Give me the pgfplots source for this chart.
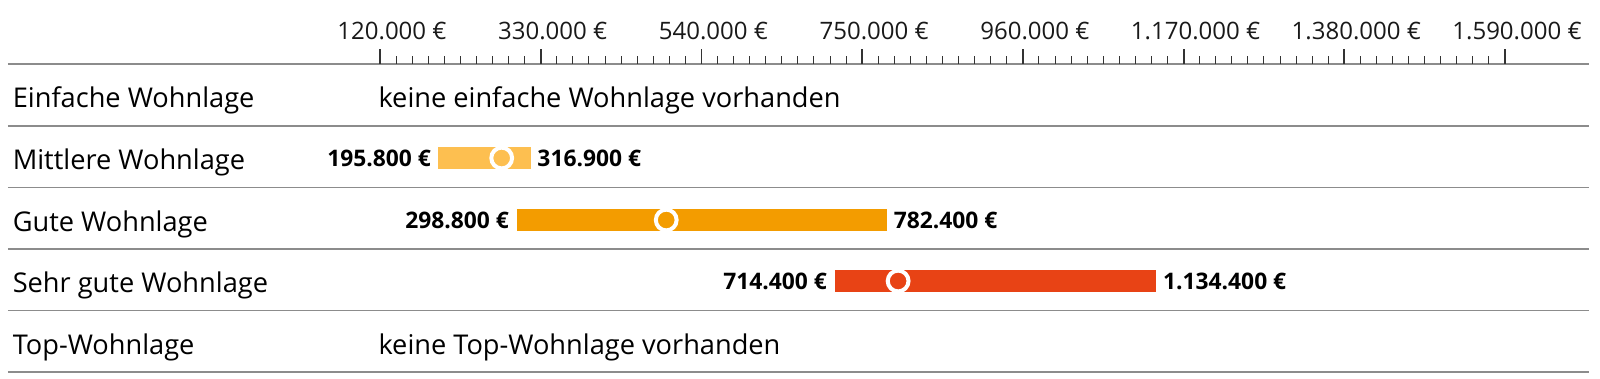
\documentclass[border=0pt]{standalone}
\usepackage{pgfplots}
\pgfplotsset{compat=1.18}
\usepackage{fontspec}
\setmainfont{Open Sans}
\definecolor{gridgray}{HTML}{8C8C8C}
\definecolor{tickdark}{HTML}{333333}
\definecolor{cMid}{HTML}{FDBF50}
\definecolor{cGood}{HTML}{F39C00}
\definecolor{cTop}{HTML}{E84315}
\newcommand{\catfont}{\fontsize{6.8}{8}\selectfont}
\newcommand{\valfont}{\fontsize{5.7}{7}\selectfont\bfseries}
\begin{document}
\begin{tikzpicture}
\begin{axis}[
  scale only axis, width=395.25pt, height=78.5pt,
  xmin=-366077, xmax=1699752, ymin=-378, ymax=-64,
  clip=false,
  axis line style={draw=none},
  scaled x ticks=false,
  xtick={120000,330000,540000,750000,960000,1170000,1380000,1590000},
  xticklabels={120.000 €,330.000 €,540.000 €,750.000 €,960.000 €,1.170.000 €,1.380.000 €,1.590.000 €},
  xtick pos=right, xticklabel pos=right,
  tick align=outside,
  minor x tick num=9,
  major tick length=3.75pt, minor tick length=2pt,
  xtick style={tickdark},
  major tick style={line width=0.45pt},
  minor tick style={line width=0.25pt},
  xticklabel style={font=\fontsize{6}{7}\selectfont, text=black!90, xshift=3pt, yshift=-1.2pt},
  ytick={-64,-126,-187.5,-249,-310.5,-372},
  yticklabels={},
  ytick style={draw=none},
  ymajorgrids,
  major grid style={gridgray, line width=0.4pt},
]
% range bars (min to max)
\addplot[cMid, line width=5.5pt, forget plot] coordinates {(195800,-158) (316900,-158)};
\addplot[cGood, line width=5.5pt, forget plot] coordinates {(298800,-220) (782400,-220)};
\addplot[cTop, line width=5.5pt, forget plot] coordinates {(714400,-281) (1134400,-281)};
% median markers
\addplot[only marks, mark=*, mark size=2.6pt, mark options={fill=cMid, draw=white, line width=1pt}] coordinates {(279000,-158)};
\addplot[only marks, mark=*, mark size=2.6pt, mark options={fill=cGood, draw=white, line width=1pt}] coordinates {(494000,-220)};
\addplot[only marks, mark=*, mark size=2.6pt, mark options={fill=cTop, draw=white, line width=1pt}] coordinates {(797000,-281)};
% category labels
\node[anchor=base west, inner sep=0, font=\catfont] at (axis cs:-360851,-107.5) {Einfache Wohnlage};
\node[anchor=base west, inner sep=0, font=\catfont] at (axis cs:-360851,-169) {Mittlere Wohnlage};
\node[anchor=base west, inner sep=0, font=\catfont] at (axis cs:-360851,-231) {Gute Wohnlage};
\node[anchor=base west, inner sep=0, font=\catfont] at (axis cs:-360851,-292) {Sehr gute Wohnlage};
\node[anchor=base west, inner sep=0, font=\catfont] at (axis cs:-360851,-354) {Top-Wohnlage};
% notes
\node[anchor=base west, inner sep=0, font=\catfont] at (axis cs:117000,-107.5) {keine einfache Wohnlage vorhanden};
\node[anchor=base west, inner sep=0, font=\catfont] at (axis cs:117000,-354) {keine Top-Wohnlage vorhanden};
% value labels
\node[anchor=base east, inner sep=0, xshift=-1.6pt, font=\valfont] at (axis cs:195800,-166.7) {195.800 €};
\node[anchor=base west, inner sep=0, xshift=1.5pt, font=\valfont] at (axis cs:316900,-166.7) {316.900 €};
\node[anchor=base east, inner sep=0, xshift=-1.8pt, font=\valfont] at (axis cs:298800,-228.7) {298.800 €};
\node[anchor=base west, inner sep=0, xshift=1.5pt, font=\valfont] at (axis cs:782400,-228.7) {782.400 €};
\node[anchor=base east, inner sep=0, xshift=-1.8pt, font=\valfont] at (axis cs:714400,-289.7) {714.400 €};
\node[anchor=base west, inner sep=0, xshift=1.5pt, font=\valfont] at (axis cs:1134400,-289.7) {1.134.400 €};
% page extent
\coordinate (bbSW) at (axis cs:-376530,-378);
\coordinate (bbNE) at (axis cs:1714125,0);
\end{axis}
\pgfresetboundingbox
\useasboundingbox (bbSW) rectangle (bbNE);
\end{tikzpicture}
\end{document}
